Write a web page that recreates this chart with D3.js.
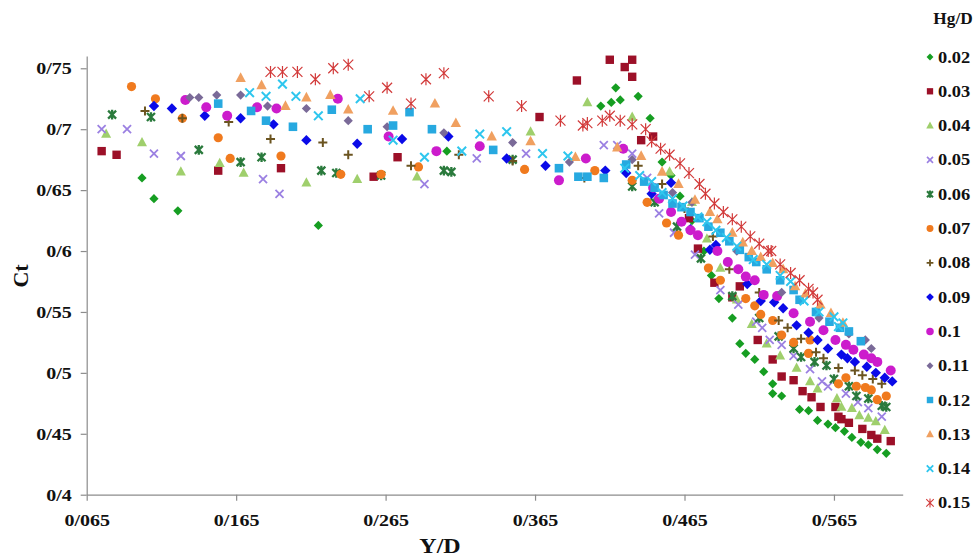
<!DOCTYPE html>
<html><head><meta charset="utf-8">
<script src="https://cdn.jsdelivr.net/npm/d3@7"></script>
<style>body{margin:0;background:#fff}svg{display:block}</style>
</head><body><svg id="c" width="976" height="559"></svg>
<script>
// ---------- data ----------
const seriesNames = ["0.02","0.03","0.04","0.05","0.06","0.07","0.08","0.09","0.1","0.11","0.12","0.13","0.14","0.15"];
const xTicks = [0.065,0.165,0.265,0.365,0.465,0.565];
const xTickLabels = ["0/065","0/165","0/265","0/365","0/465","0/565"];
const yTicks = [0.4,0.45,0.5,0.55,0.6,0.65,0.7,0.75];
const yTickLabels = ["0/4","0/45","0/5","0/55","0/6","0/65","0/7","0/75"];
const xTitle = "Y/D", yTitle = "Ct", legendTitle = "Hg/D";

const s002 = [[0.102,0.660],[0.110,0.643],[0.126,0.633],[0.220,0.621],[0.306,0.682],[0.409,0.719],[0.416,0.722],[0.419,0.734],[0.422,0.724],[0.434,0.727],[0.442,0.709],[0.450,0.673],[0.456,0.662],[0.462,0.645],[0.470,0.625],[0.478,0.600],[0.483,0.580],[0.488,0.561],[0.497,0.545],[0.502,0.524],[0.506,0.516],[0.512,0.511],[0.518,0.501],[0.524,0.491],[0.524,0.483],[0.530,0.481],[0.542,0.470],[0.548,0.469],[0.554,0.461],[0.561,0.458],[0.566,0.455],[0.572,0.452],[0.577,0.447],[0.583,0.443],[0.588,0.441],[0.594,0.437],[0.600,0.434]];
const s003 = [[0.075,0.682],[0.085,0.679],[0.153,0.666],[0.195,0.668],[0.257,0.661],[0.273,0.677],[0.368,0.710],[0.393,0.740],[0.415,0.757],[0.425,0.751],[0.430,0.757],[0.430,0.743],[0.436,0.691],[0.444,0.694],[0.468,0.627],[0.474,0.602],[0.485,0.574],[0.497,0.562],[0.502,0.571],[0.514,0.527],[0.524,0.511],[0.530,0.497],[0.538,0.494],[0.544,0.485],[0.550,0.480],[0.556,0.472],[0.566,0.472],[0.568,0.464],[0.570,0.462],[0.575,0.459],[0.584,0.454],[0.590,0.449],[0.594,0.446],[0.603,0.444]];
const s004 = [[0.078,0.696],[0.102,0.689],[0.128,0.665],[0.154,0.672],[0.170,0.664],[0.212,0.656],[0.246,0.659],[0.286,0.661],[0.362,0.698],[0.400,0.722],[0.430,0.710],[0.455,0.665],[0.470,0.640],[0.480,0.610],[0.489,0.586],[0.500,0.560],[0.510,0.540],[0.520,0.524],[0.529,0.514],[0.540,0.504],[0.549,0.493],[0.554,0.487],[0.567,0.479],[0.570,0.472],[0.577,0.471],[0.582,0.465],[0.588,0.463],[0.593,0.460],[0.599,0.453]];
const s005 = [[0.075,0.700],[0.092,0.700],[0.110,0.680],[0.128,0.678],[0.183,0.659],[0.194,0.647],[0.291,0.655],[0.326,0.676],[0.359,0.680],[0.411,0.687],[0.420,0.687],[0.430,0.680],[0.440,0.660],[0.448,0.631],[0.458,0.615],[0.472,0.597],[0.489,0.568],[0.501,0.556],[0.513,0.542],[0.517,0.537],[0.522,0.527],[0.530,0.523],[0.538,0.514],[0.549,0.503],[0.557,0.493],[0.561,0.489],[0.573,0.483],[0.581,0.476],[0.588,0.471],[0.597,0.464]];
const s006 = [[0.082,0.712],[0.108,0.710],[0.140,0.683],[0.168,0.673],[0.182,0.677],[0.222,0.666],[0.232,0.664],[0.262,0.662],[0.304,0.666],[0.309,0.665],[0.350,0.675],[0.430,0.653],[0.445,0.640],[0.460,0.620],[0.476,0.594],[0.497,0.563],[0.515,0.545],[0.528,0.530],[0.538,0.520],[0.543,0.513],[0.552,0.509],[0.560,0.506],[0.565,0.495],[0.575,0.489],[0.580,0.481],[0.588,0.479],[0.597,0.473],[0.600,0.472]];
const s007 = [[0.095,0.735],[0.111,0.725],[0.129,0.709],[0.153,0.693],[0.161,0.676],[0.195,0.678],[0.235,0.663],[0.262,0.663],[0.287,0.669],[0.358,0.667],[0.405,0.666],[0.430,0.658],[0.440,0.640],[0.453,0.623],[0.461,0.613],[0.481,0.586],[0.489,0.576],[0.506,0.561],[0.512,0.555],[0.516,0.548],[0.524,0.543],[0.530,0.531],[0.538,0.525],[0.548,0.516],[0.549,0.527],[0.568,0.491],[0.573,0.496],[0.580,0.489],[0.586,0.488],[0.590,0.486],[0.594,0.478],[0.600,0.481]];
const s008 = [[0.104,0.715],[0.129,0.709],[0.160,0.706],[0.188,0.692],[0.223,0.689],[0.240,0.679],[0.282,0.670],[0.314,0.679],[0.350,0.674],[0.398,0.660],[0.434,0.670],[0.450,0.655],[0.465,0.635],[0.484,0.612],[0.495,0.585],[0.515,0.566],[0.528,0.543],[0.534,0.537],[0.543,0.528],[0.553,0.517],[0.558,0.512],[0.568,0.504],[0.579,0.502],[0.584,0.498],[0.591,0.495],[0.597,0.491]];
const s009 = [[0.110,0.719],[0.122,0.717],[0.144,0.711],[0.168,0.709],[0.190,0.704],[0.212,0.691],[0.246,0.688],[0.276,0.692],[0.307,0.694],[0.346,0.676],[0.372,0.670],[0.412,0.666],[0.426,0.664],[0.443,0.647],[0.456,0.656],[0.469,0.618],[0.482,0.601],[0.486,0.605],[0.507,0.573],[0.516,0.559],[0.525,0.558],[0.531,0.553],[0.540,0.539],[0.548,0.533],[0.554,0.527],[0.561,0.520],[0.570,0.515],[0.574,0.512],[0.579,0.509],[0.587,0.505],[0.593,0.500],[0.599,0.496],[0.604,0.493]];
const s010 = [[0.131,0.724],[0.145,0.718],[0.159,0.711],[0.179,0.718],[0.192,0.717],[0.233,0.725],[0.267,0.694],[0.299,0.682],[0.328,0.686],[0.381,0.658],[0.399,0.676],[0.424,0.684],[0.444,0.652],[0.448,0.643],[0.456,0.632],[0.463,0.624],[0.469,0.617],[0.474,0.613],[0.487,0.600],[0.494,0.591],[0.501,0.585],[0.506,0.579],[0.512,0.576],[0.518,0.564],[0.527,0.563],[0.538,0.549],[0.549,0.542],[0.558,0.535],[0.566,0.527],[0.573,0.523],[0.578,0.519],[0.585,0.515],[0.590,0.512],[0.594,0.509],[0.603,0.502]];
const s011 = [[0.134,0.726],[0.140,0.726],[0.152,0.728],[0.168,0.728],[0.186,0.719],[0.212,0.717],[0.240,0.707],[0.266,0.702],[0.304,0.697],[0.350,0.689],[0.388,0.673],[0.430,0.675],[0.457,0.648],[0.470,0.640],[0.500,0.600],[0.530,0.566],[0.555,0.545],[0.575,0.532],[0.586,0.527],[0.590,0.520]];
const s012 = [[0.153,0.721],[0.175,0.715],[0.185,0.707],[0.203,0.702],[0.229,0.716],[0.253,0.700],[0.270,0.703],[0.281,0.714],[0.296,0.700],[0.337,0.683],[0.381,0.668],[0.394,0.661],[0.400,0.661],[0.411,0.660],[0.426,0.671],[0.438,0.657],[0.445,0.652],[0.451,0.646],[0.457,0.639],[0.463,0.636],[0.469,0.632],[0.475,0.627],[0.481,0.620],[0.489,0.615],[0.495,0.608],[0.502,0.601],[0.508,0.595],[0.513,0.591],[0.520,0.585],[0.529,0.576],[0.538,0.568],[0.542,0.560],[0.553,0.550],[0.562,0.542],[0.569,0.537],[0.575,0.534],[0.583,0.526]];
const s013 = [[0.168,0.742],[0.182,0.736],[0.198,0.719],[0.212,0.726],[0.228,0.728],[0.240,0.716],[0.270,0.715],[0.298,0.721],[0.312,0.705],[0.336,0.694],[0.362,0.690],[0.392,0.677],[0.420,0.685],[0.436,0.678],[0.450,0.665],[0.461,0.655],[0.472,0.642],[0.482,0.632],[0.487,0.626],[0.497,0.615],[0.504,0.607],[0.510,0.600],[0.516,0.595],[0.524,0.590],[0.531,0.585],[0.539,0.571],[0.546,0.565],[0.556,0.556],[0.563,0.549],[0.571,0.541]];
const s014 = [[0.174,0.730],[0.185,0.727],[0.196,0.737],[0.205,0.727],[0.220,0.711],[0.248,0.725],[0.270,0.691],[0.291,0.677],[0.316,0.682],[0.328,0.696],[0.346,0.698],[0.370,0.680],[0.387,0.678],[0.425,0.668],[0.435,0.662],[0.443,0.657],[0.450,0.648],[0.457,0.643],[0.464,0.637],[0.474,0.628],[0.480,0.624],[0.486,0.617],[0.493,0.611],[0.500,0.604],[0.511,0.593],[0.520,0.589],[0.529,0.580],[0.536,0.575],[0.545,0.559],[0.555,0.550],[0.565,0.546],[0.568,0.538],[0.571,0.541]];
const s015 = [[0.188,0.747],[0.196,0.747],[0.206,0.747],[0.218,0.741],[0.230,0.750],[0.240,0.753],[0.254,0.727],[0.266,0.734],[0.282,0.721],[0.292,0.741],[0.304,0.746],[0.334,0.727],[0.356,0.719],[0.382,0.707],[0.397,0.703],[0.400,0.705],[0.410,0.707],[0.415,0.711],[0.422,0.707],[0.430,0.704],[0.439,0.700],[0.443,0.690],[0.449,0.684],[0.455,0.679],[0.462,0.672],[0.468,0.664],[0.475,0.655],[0.479,0.647],[0.485,0.639],[0.491,0.632],[0.497,0.626],[0.503,0.620],[0.509,0.612],[0.515,0.606],[0.521,0.600],[0.523,0.600],[0.529,0.589],[0.536,0.582],[0.542,0.576],[0.548,0.569],[0.551,0.566],[0.554,0.560]];
const seriesData = [s002,s003,s004,s005,s006,s007,s008,s009,s010,s011,s012,s013,s014,s015];

// ---------- styles ----------
const colors = ["#169e22","#9c1028","#9fcf6c","#9b80e2","#2a7a3c","#f07a1e","#6b5420","#0a0ae8","#cc1ccc","#7a6a98","#27a9e0","#f0a060","#2ec6ee","#d23a3a"];
const markers = [
  {t:"diamond",s:4.6},{t:"square",s:4.2},{t:"triangle",s:5},{t:"x",s:4,w:1.8},{t:"star",s:4,w:2.3},
  {t:"circle",s:4.6},{t:"plus",s:4.5,w:2},{t:"diamond",s:5.2},{t:"circle",s:5},{t:"diamond",s:4.6},
  {t:"square",s:4.3},{t:"triangle",s:5.2},{t:"x",s:4.3,w:2},{t:"star",s:5,w:1.2}];

function markerPath(t,s){
  switch(t){
    case "diamond": return `M0,${-s}L${s},0L0,${s}L${-s},0Z`;
    case "square": return `M${-s},${-s}h${2*s}v${2*s}h${-2*s}Z`;
    case "triangle": return `M0,${-s*1.1}L${s},${s*0.75}L${-s},${s*0.75}Z`;
    case "circle": return d3.symbol(d3.symbolCircle, Math.PI*s*s)();
    case "x": return `M${-s},${-s}L${s},${s}M${-s},${s}L${s},${-s}`;
    case "plus": return `M${-s},0H${s}M0,${-s}V${s}`;
    case "star": return `M${-s},${-s}L${s},${s}M${-s},${s}L${s},${-s}M0,${-s*1.2}V${s*1.2}`;
  }
}
const stroked = t => t==="x"||t==="plus"||t==="star";

// ---------- chart ----------
const svg = d3.select("#c");
const font = "'Liberation Serif','Times New Roman',serif";
const x = d3.scaleLinear().domain([0.065,0.611]).range([86.7,902.7]);
const y = d3.scaleLinear().domain([0.4,0.76]).range([494.7,56.1]);
const axisColor = "#8c8c8c";

const gx = svg.append("g").attr("transform",`translate(0,${y(0.4)})`)
  .call(d3.axisBottom(x).tickValues(xTicks).tickFormat((d,i)=>xTickLabels[i]).tickSize(6).tickSizeOuter(0));
const gy = svg.append("g").attr("transform",`translate(${x(0.065)},0)`)
  .call(d3.axisLeft(y).tickValues(yTicks).tickFormat((d,i)=>yTickLabels[i]).tickSize(6).tickSizeOuter(0));
[gx,gy].forEach(g=>{
  g.select(".domain").attr("stroke",axisColor).attr("stroke-width",1.2);
  g.selectAll(".tick line").attr("stroke",axisColor).attr("stroke-width",1.2);
  g.selectAll(".tick text").attr("font-family",font).attr("font-weight","bold")
    .attr("font-size",16).attr("fill","#111").attr("dy",null);
});
gx.selectAll(".tick text").attr("x",0).attr("y",0).attr("text-anchor","middle")
  .attr("transform","translate(0,31) scale(1.25,1)");
gy.selectAll(".tick text").attr("x",0).attr("y",0).attr("text-anchor","end")
  .attr("transform","translate(-15,5.5) scale(1.25,1)");

// points
const plot = svg.append("g");
seriesData.forEach((data,i)=>{
  const m = markers[i];
  const p = markerPath(m.t,m.s);
  plot.append("g").selectAll("path").data(data).join("path")
    .attr("d",p)
    .attr("transform",d=>`translate(${x(d[0])},${y(d[1])})`)
    .attr("fill",stroked(m.t)?"none":colors[i])
    .attr("stroke",stroked(m.t)?colors[i]:"none")
    .attr("stroke-width",m.w||0);
});

// titles
svg.append("text").text(yTitle).attr("font-family",font).attr("font-weight","bold")
  .attr("font-size",22).attr("text-anchor","middle").attr("fill","#111")
  .attr("transform","translate(28,276) rotate(-90)");
svg.append("text").text(xTitle).attr("font-family",font).attr("font-weight","bold")
  .attr("font-size",20).attr("text-anchor","middle").attr("fill","#111")
  .attr("transform","translate(440,553) scale(1.2,1)");

// legend
const lg = svg.append("g");
lg.append("text").text(legendTitle).attr("font-family",font).attr("font-weight","bold")
  .attr("font-size",16).attr("fill","#111").attr("text-anchor","middle")
  .attr("transform","translate(953,24) scale(1.08,1)");
seriesNames.forEach((n,i)=>{
  const yy = 57 + i*34.3;
  const m = markers[i];
  lg.append("path").attr("d",markerPath(m.t,m.s*0.75))
    .attr("transform",`translate(930,${yy})`)
    .attr("fill",stroked(m.t)?"none":colors[i])
    .attr("stroke",stroked(m.t)?colors[i]:"none")
    .attr("stroke-width",(m.w||0)*0.9);
  lg.append("text").text(n).attr("font-family",font).attr("font-weight","bold")
    .attr("font-size",16).attr("fill","#111")
    .attr("transform",`translate(938,${yy+5.5}) scale(1.15,1)`);
});
</script></body></html>
